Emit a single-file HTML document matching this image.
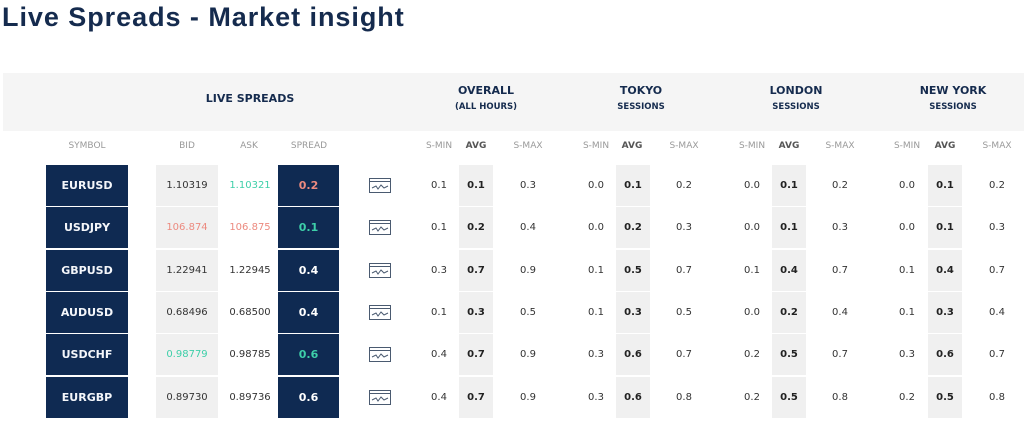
<!DOCTYPE html>
<html><head><meta charset="utf-8"><style>
*{margin:0;padding:0;box-sizing:border-box}
body{width:1024px;height:440px;background:#fff;position:relative;overflow:hidden;font-family:"DejaVu Sans","Liberation Sans",sans-serif;color:#333}
.t{position:absolute;left:2px;top:2px;font:bold 27px "Liberation Sans",sans-serif;letter-spacing:0.95px;color:#152b4e;white-space:nowrap}
.band{position:absolute;left:3px;top:73px;width:1021px;height:58px;background:#f5f5f5}
.h{position:absolute;text-align:center;color:#152b4e;font-weight:bold;font-size:11px;white-space:nowrap}
.h small{display:block;font-size:8.5px;margin-top:5px}
.ch{position:absolute;top:141px;font-size:9px;color:#999;text-align:center;width:50px;margin-left:-25px}
.ch.b{font-weight:bold;color:#555}
.r{position:absolute;left:0;width:1024px;height:42px}
.r div{position:absolute;top:0;height:41px;line-height:41px;text-align:center;font-size:10px;white-space:nowrap}
.s{left:46px;width:82px;background:#0f2a52;color:#f4f6fa;font-weight:bold;font-size:11px!important}
.bd{left:156px;width:62px;background:#f0f0f0}
.ak{left:219px;width:62px}
.sp{left:278px;width:61px;background:#0f2a52;color:#fff;font-weight:bold;font-size:11px!important}
.ic{left:369px;width:22px}
.ic svg{position:absolute;left:0;top:13px}
.v{width:40px;margin-left:-20px}
.a{width:34px;background:#f0f0f0;font-weight:bold;color:#222}
.g{color:#3ecfa9}.rd{color:#ec8a7f}
</style></head><body>
<div class="t">Live Spreads - Market insight</div>
<div class="band"></div>
<div class="h" style="left:190px;width:120px;top:92px">LIVE SPREADS</div>
<div class="h" style="left:436px;width:100px;top:84px">OVERALL<small>(ALL HOURS)</small></div>
<div class="h" style="left:591px;width:100px;top:84px">TOKYO<small>SESSIONS</small></div>
<div class="h" style="left:746px;width:100px;top:84px">LONDON<small>SESSIONS</small></div>
<div class="h" style="left:903px;width:100px;top:84px">NEW YORK<small>SESSIONS</small></div>
<div class="ch" style="left:87px">SYMBOL</div>
<div class="ch" style="left:187px">BID</div>
<div class="ch" style="left:249px">ASK</div>
<div class="ch" style="left:309px">SPREAD</div>
<div class="ch" style="left:439px">S-MIN</div><div class="ch b" style="left:476px">AVG</div><div class="ch" style="left:528px">S-MAX</div>
<div class="ch" style="left:596px">S-MIN</div><div class="ch b" style="left:632px">AVG</div><div class="ch" style="left:684px">S-MAX</div>
<div class="ch" style="left:752px">S-MIN</div><div class="ch b" style="left:789px">AVG</div><div class="ch" style="left:840px">S-MAX</div>
<div class="ch" style="left:907px">S-MIN</div><div class="ch b" style="left:945px">AVG</div><div class="ch" style="left:997px">S-MAX</div>

<div class="r" style="top:165px"><div class="s">EURUSD</div><div class="bd">1.10319</div><div class="ak g">1.10321</div><div class="sp rd">0.2</div><div class="ic"><svg width="22" height="15"><rect x="0.5" y="0.5" width="21" height="14" fill="none" stroke="#4a5a70"/><line x1="0" y1="3.5" x2="22" y2="3.5" stroke="#4a5a70"/><polyline points="3,10 7,8 9,11 12,7 15,10 19,8" fill="none" stroke="#4a5a70"/></svg></div>
<div class="v" style="left:439px">0.1</div><div class="a" style="left:459px">0.1</div><div class="v" style="left:528px">0.3</div>
<div class="v" style="left:596px">0.0</div><div class="a" style="left:616px">0.1</div><div class="v" style="left:684px">0.2</div>
<div class="v" style="left:752px">0.0</div><div class="a" style="left:772px">0.1</div><div class="v" style="left:840px">0.2</div>
<div class="v" style="left:907px">0.0</div><div class="a" style="left:928px">0.1</div><div class="v" style="left:997px">0.2</div></div>

<div class="r" style="top:207px"><div class="s">USDJPY</div><div class="bd rd">106.874</div><div class="ak rd">106.875</div><div class="sp g">0.1</div><div class="ic"><svg width="22" height="15"><rect x="0.5" y="0.5" width="21" height="14" fill="none" stroke="#4a5a70"/><line x1="0" y1="3.5" x2="22" y2="3.5" stroke="#4a5a70"/><polyline points="3,10 7,8 9,11 12,7 15,10 19,8" fill="none" stroke="#4a5a70"/></svg></div>
<div class="v" style="left:439px">0.1</div><div class="a" style="left:459px">0.2</div><div class="v" style="left:528px">0.4</div>
<div class="v" style="left:596px">0.0</div><div class="a" style="left:616px">0.2</div><div class="v" style="left:684px">0.3</div>
<div class="v" style="left:752px">0.0</div><div class="a" style="left:772px">0.1</div><div class="v" style="left:840px">0.3</div>
<div class="v" style="left:907px">0.0</div><div class="a" style="left:928px">0.1</div><div class="v" style="left:997px">0.3</div></div>

<div class="r" style="top:250px"><div class="s">GBPUSD</div><div class="bd">1.22941</div><div class="ak">1.22945</div><div class="sp">0.4</div><div class="ic"><svg width="22" height="15"><rect x="0.5" y="0.5" width="21" height="14" fill="none" stroke="#4a5a70"/><line x1="0" y1="3.5" x2="22" y2="3.5" stroke="#4a5a70"/><polyline points="3,10 7,8 9,11 12,7 15,10 19,8" fill="none" stroke="#4a5a70"/></svg></div>
<div class="v" style="left:439px">0.3</div><div class="a" style="left:459px">0.7</div><div class="v" style="left:528px">0.9</div>
<div class="v" style="left:596px">0.1</div><div class="a" style="left:616px">0.5</div><div class="v" style="left:684px">0.7</div>
<div class="v" style="left:752px">0.1</div><div class="a" style="left:772px">0.4</div><div class="v" style="left:840px">0.7</div>
<div class="v" style="left:907px">0.1</div><div class="a" style="left:928px">0.4</div><div class="v" style="left:997px">0.7</div></div>

<div class="r" style="top:292px"><div class="s">AUDUSD</div><div class="bd">0.68496</div><div class="ak">0.68500</div><div class="sp">0.4</div><div class="ic"><svg width="22" height="15"><rect x="0.5" y="0.5" width="21" height="14" fill="none" stroke="#4a5a70"/><line x1="0" y1="3.5" x2="22" y2="3.5" stroke="#4a5a70"/><polyline points="3,10 7,8 9,11 12,7 15,10 19,8" fill="none" stroke="#4a5a70"/></svg></div>
<div class="v" style="left:439px">0.1</div><div class="a" style="left:459px">0.3</div><div class="v" style="left:528px">0.5</div>
<div class="v" style="left:596px">0.1</div><div class="a" style="left:616px">0.3</div><div class="v" style="left:684px">0.5</div>
<div class="v" style="left:752px">0.0</div><div class="a" style="left:772px">0.2</div><div class="v" style="left:840px">0.4</div>
<div class="v" style="left:907px">0.1</div><div class="a" style="left:928px">0.3</div><div class="v" style="left:997px">0.4</div></div>

<div class="r" style="top:334px"><div class="s">USDCHF</div><div class="bd g">0.98779</div><div class="ak">0.98785</div><div class="sp g">0.6</div><div class="ic"><svg width="22" height="15"><rect x="0.5" y="0.5" width="21" height="14" fill="none" stroke="#4a5a70"/><line x1="0" y1="3.5" x2="22" y2="3.5" stroke="#4a5a70"/><polyline points="3,10 7,8 9,11 12,7 15,10 19,8" fill="none" stroke="#4a5a70"/></svg></div>
<div class="v" style="left:439px">0.4</div><div class="a" style="left:459px">0.7</div><div class="v" style="left:528px">0.9</div>
<div class="v" style="left:596px">0.3</div><div class="a" style="left:616px">0.6</div><div class="v" style="left:684px">0.7</div>
<div class="v" style="left:752px">0.2</div><div class="a" style="left:772px">0.5</div><div class="v" style="left:840px">0.7</div>
<div class="v" style="left:907px">0.3</div><div class="a" style="left:928px">0.6</div><div class="v" style="left:997px">0.7</div></div>

<div class="r" style="top:377px"><div class="s">EURGBP</div><div class="bd">0.89730</div><div class="ak">0.89736</div><div class="sp">0.6</div><div class="ic"><svg width="22" height="15"><rect x="0.5" y="0.5" width="21" height="14" fill="none" stroke="#4a5a70"/><line x1="0" y1="3.5" x2="22" y2="3.5" stroke="#4a5a70"/><polyline points="3,10 7,8 9,11 12,7 15,10 19,8" fill="none" stroke="#4a5a70"/></svg></div>
<div class="v" style="left:439px">0.4</div><div class="a" style="left:459px">0.7</div><div class="v" style="left:528px">0.9</div>
<div class="v" style="left:596px">0.3</div><div class="a" style="left:616px">0.6</div><div class="v" style="left:684px">0.8</div>
<div class="v" style="left:752px">0.2</div><div class="a" style="left:772px">0.5</div><div class="v" style="left:840px">0.8</div>
<div class="v" style="left:907px">0.2</div><div class="a" style="left:928px">0.5</div><div class="v" style="left:997px">0.8</div></div>
</body></html>
